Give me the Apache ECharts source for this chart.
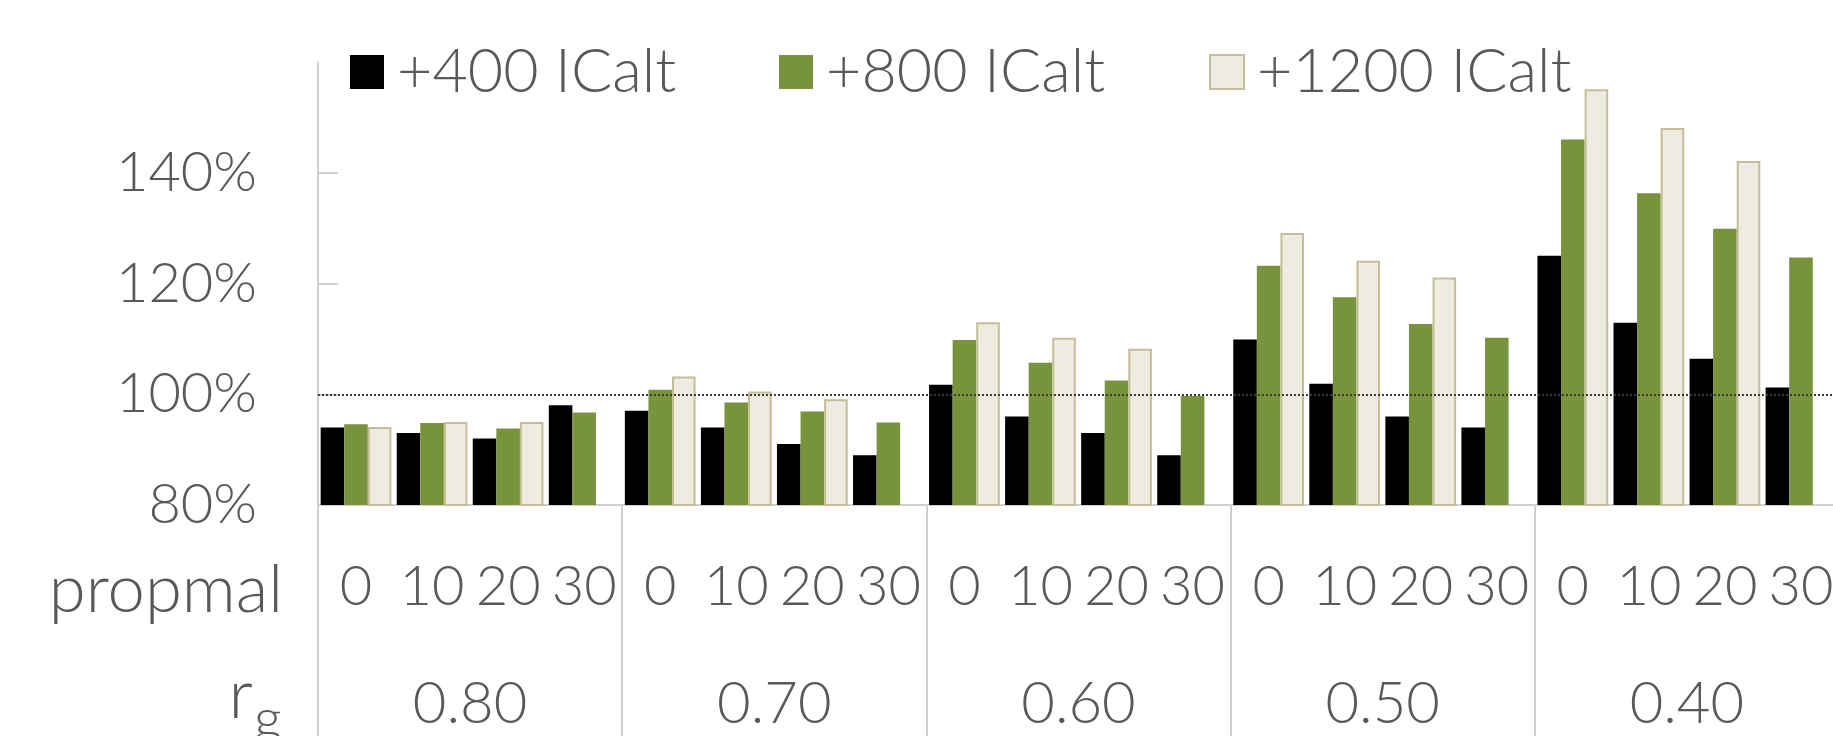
<!DOCTYPE html>
<html>
<head>
<meta charset="utf-8">
<title>ICalt by propmal and r_g</title>
<script src="https://cdn.jsdelivr.net/npm/echarts@6/dist/echarts.min.js"></script>
<style>
  html, body { margin: 0; padding: 0; background: #ffffff; }
  #chart { width: 1833px; height: 736px; }
</style>
</head>
<body>
<div id="chart"></div>
<script>
// Outer grouping (r_g) and inner categories (propmal)
const rgGroups = ['0.80', '0.70', '0.60', '0.50', '0.40'];
const propmal = ['0', '10', '20', '30'];

// Values in %, ordered group by group, propmal 0/10/20/30 within each group
const icalt400 = [
  94.0, 93.0, 92.0, 98.0,
  97.0, 94.0, 91.0, 89.0,
  101.7, 96.0, 93.0, 89.0,
  109.9, 101.9, 96.0, 94.0,
  125.0, 112.9, 106.4, 101.2
];
const icalt800 = [
  94.6, 94.8, 93.8, 96.7,
  100.8, 98.5, 96.9, 94.9,
  109.8, 105.7, 102.5, 99.7,
  123.2, 117.5, 112.7, 110.2,
  146.0, 136.3, 129.9, 124.7
];
const icalt1200 = [
  94.1, 95.0, 95.0, null,
  103.2, 100.5, 99.1, null,
  113.0, 110.2, 108.2, null,
  129.1, 124.1, 121.1, null,
  155.1, 148.1, 142.1, null
];
const seriesNames = ['+400 ICalt', '+800 ICalt', '+1200 ICalt'];
const yTicks = { min: 80, max: 160, step: 20 };
const referenceLevel = 100;

const FONT = 'Lato, "Open Sans", sans-serif';
const WEIGHT = 300;
const TEXT = '#595959';
const AXIS = '#D0D0D0';

const innerLabels = [];
rgGroups.forEach(() => propmal.forEach(p => innerLabels.push(p)));

const chart = echarts.init(document.getElementById('chart'), null, { renderer: 'canvas' });

function legendAt(name, left) {
  return {
    data: [name],
    left: left,
    top: 36,
    icon: 'rect',
    itemWidth: 34,
    itemHeight: 34,
    selectedMode: false,
    textStyle: {
      fontFamily: FONT,
      fontWeight: WEIGHT,
      fontSize: 61,
      lineHeight: 62,
      color: TEXT,
      padding: [0, 0, 0, 8]
    }
  };
}

chart.setOption({
  animation: false,
  backgroundColor: '#ffffff',
  legend: [
    legendAt(seriesNames[0], 345),
    legendAt(seriesNames[1], 774),
    legendAt(seriesNames[2], 1204)
  ],
  grid: {
    left: 318,
    right: -6,
    top: 62,
    bottom: 231,
    containLabel: false,
    outerBoundsMode: 'none'
  },
  xAxis: [
    {
      type: 'category',
      data: innerLabels,
      position: 'bottom',
      axisLine: { show: true, lineStyle: { color: AXIS, width: 2 } },
      axisTick: { show: false },
      axisLabel: {
        interval: 0,
        fontFamily: FONT,
        fontWeight: WEIGHT,
        fontSize: 56,
        lineHeight: 56,
        color: TEXT,
        margin: 54
      },
      splitLine: { show: false }
    },
    {
      type: 'category',
      data: rgGroups,
      position: 'bottom',
      offset: 0,
      axisLine: { show: false },
      axisTick: { show: true, length: 240, lineStyle: { color: AXIS, width: 2 } },
      axisLabel: {
        interval: 0,
        fontFamily: FONT,
        fontWeight: WEIGHT,
        fontSize: 58,
        lineHeight: 58,
        color: TEXT,
        margin: 170
      },
      splitLine: { show: false }
    }
  ],
  yAxis: {
    type: 'value',
    min: yTicks.min,
    max: yTicks.max,
    interval: yTicks.step,
    axisLine: { show: true, lineStyle: { color: AXIS, width: 2 } },
    axisTick: { show: true, inside: true, length: 20, lineStyle: { color: AXIS, width: 2 } },
    splitLine: { show: false },
    axisLabel: {
      showMaxLabel: false,
      fontFamily: FONT,
      fontWeight: WEIGHT,
      fontSize: 56,
      color: TEXT,
      margin: 61,
      formatter: v => v + '%'
    }
  },
  series: [
    {
      name: seriesNames[0],
      type: 'bar',
      data: icalt400,
      barGap: '0%',
      barCategoryGap: '7%',
      itemStyle: { color: '#000000' },
      markLine: {
        silent: true,
        symbol: 'none',
        label: { show: false },
        lineStyle: { type: 'dotted', color: '#3E3B2C', width: 2 },
        data: [{ yAxis: referenceLevel }],
        z: 10
      }
    },
    {
      name: seriesNames[1],
      type: 'bar',
      data: icalt800,
      barGap: '0%',
      barCategoryGap: '7%',
      itemStyle: { color: '#77933C' }
    },
    {
      name: seriesNames[2],
      type: 'bar',
      data: icalt1200,
      barGap: '0%',
      barCategoryGap: '7%',
      itemStyle: { color: '#EEECE1', borderColor: '#C4BD97', borderWidth: 2 }
    }
  ],
  graphic: [
    {
      type: 'text',
      style: {
        text: 'propmal',
        x: 283,
        y: 590,
        textAlign: 'right',
        textVerticalAlign: 'middle',
        font: WEIGHT + ' 67px ' + FONT,
        fill: TEXT
      }
    },
    {
      type: 'text',
      style: {
        text: 'r',
        x: 253,
        y: 696,
        textAlign: 'right',
        textVerticalAlign: 'middle',
        font: WEIGHT + ' 69px ' + FONT,
        fill: TEXT
      }
    },
    {
      type: 'text',
      style: {
        text: 'g',
        x: 254,
        y: 720,
        textAlign: 'left',
        textVerticalAlign: 'middle',
        font: WEIGHT + ' 54px ' + FONT,
        fill: TEXT
      }
    }
  ]
});
</script>
</body>
</html>
